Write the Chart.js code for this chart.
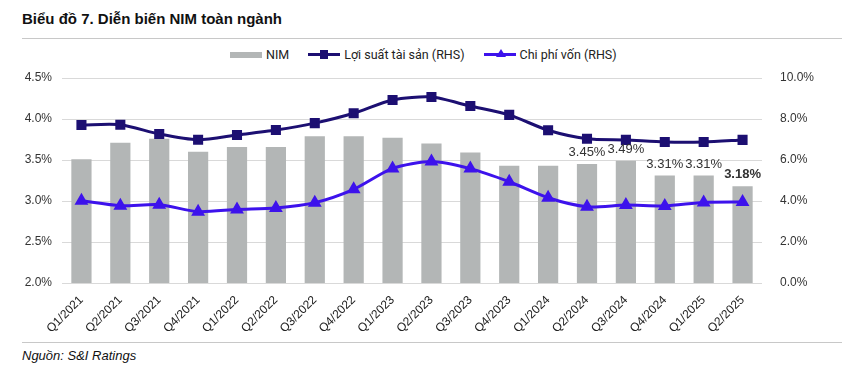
<!DOCTYPE html>
<html lang="vi">
<head>
<meta charset="UTF-8">
<title>Biểu đồ 7. Diễn biến NIM toàn ngành</title>
<script src="https://cdn.jsdelivr.net/npm/chart.js"></script>
<style>
  body { margin: 0; width: 842px; height: 371px; background: #fff; position: relative; overflow: hidden;
         font-family: "Liberation Sans", Arial, sans-serif; color: #222; }
  #title { position: absolute; left: 22px; top: 10px; font-weight: bold; font-size: 15px; color: #111; }
  #topline { position: absolute; left: 22px; right: 0; top: 38px; border-top: 1px solid #c8c8c8; }
  #botline { position: absolute; left: 22px; right: 0; top: 342px; border-top: 1px solid #c8c8c8; }
  #source { position: absolute; left: 22px; top: 348px; font-style: italic; font-size: 13px; color: #111; }
  #legend { position: absolute; top: 47px; left: 230px; font-family: Roboto, sans-serif; font-size: 12.5px; color: #222;
            display: flex; align-items: center; }
  .item { display: flex; align-items: center; margin-right: 19px; }
  .box { width: 32px; height: 6px; background: #b3b6b6; margin-right: 4px; }
  .ln { width: 32px; height: 3px; position: relative; margin-right: 4px; }
  .sq { position: absolute; left: 12px; top: -3px; width: 8px; height: 9px; background: #1c0f72; }
  .tri { position: absolute; left: 12px; top: -4px; width: 0; height: 0; border-left: 5px solid transparent;
         border-right: 5px solid transparent; border-bottom: 8px solid #3d12ec; }
  #wrap { position: absolute; left: 0; top: 40px; width: 842px; height: 300px; }
</style>
</head>
<body>
<div id="title">Biểu đồ 7. Diễn biến NIM toàn ngành</div>
<div id="topline"></div>
<div id="legend">
  <div class="item"><div class="box"></div>NIM</div>
  <div class="item"><div class="ln" style="background:#1c0f72"><div class="sq"></div></div>Lợi suất tài sản (RHS)</div>
  <div class="item"><div class="ln" style="background:#3d12ec"><div class="tri"></div></div>Chi phí vốn (RHS)</div>
</div>
<div id="wrap"><canvas id="nimChart"></canvas></div>
<div id="botline"></div>
<div id="source">Nguồn: S&amp;I Ratings</div>

<script>
const quarters = ["Q1/2021", "Q2/2021", "Q3/2021", "Q4/2021", "Q1/2022", "Q2/2022", "Q3/2022", "Q4/2022", "Q1/2023",
                  "Q2/2023", "Q3/2023", "Q4/2023", "Q1/2024", "Q2/2024", "Q3/2024", "Q4/2024", "Q1/2025", "Q2/2025"];
const nim = [3.51, 3.71, 3.76, 3.60, 3.66, 3.66, 3.79, 3.79, 3.77, 3.70, 3.59, 3.43, 3.43, 3.45, 3.49, 3.31, 3.31, 3.18];
const assetYield = [7.71, 7.72, 7.27, 6.99, 7.22, 7.46, 7.80, 8.28, 8.93, 9.07, 8.63, 8.20, 7.45, 7.04, 6.98, 6.88, 6.88, 6.98];
const costOfFunds = [4.01, 3.77, 3.82, 3.48, 3.59, 3.66, 3.92, 4.57, 5.59, 5.93, 5.58, 4.94, 4.16, 3.72, 3.80, 3.76, 3.93, 3.95];
// NIM bars that carry a value label (index from Q2/2024)
const labelFrom = 13;

// labels above the last NIM bars
const barLabels = {
  id: 'barLabels',
  afterDatasetsDraw(chart) {
    const ctx = chart.ctx;
    const meta = chart.getDatasetMeta(2); // NIM is the third dataset
    ctx.save();
    ctx.textAlign = 'center';
    ctx.textBaseline = 'bottom';
    ctx.fillStyle = '#333';
    meta.data.forEach((bar, i) => {
      if (i < labelFrom) return;
      const last = i === nim.length - 1;
      ctx.font = (last ? 'bold ' : '') + '13px "Liberation Sans", Arial, sans-serif';
      ctx.fillText(nim[i].toFixed(2) + '%', bar.x, bar.y - 5);
    });
    ctx.restore();
  }
};

const tickFont = { family: '"Liberation Sans", Arial, sans-serif', size: 12 };

new Chart(document.getElementById('nimChart'), {
  type: 'bar',
  data: {
    labels: quarters,
    datasets: [
      { type: 'line', label: 'Lợi suất tài sản (RHS)', data: assetYield, yAxisID: 'y1',
        borderColor: '#1c0f72', backgroundColor: '#1c0f72', borderWidth: 3, tension: 0.25,
        pointStyle: 'rect', pointRadius: 5, pointHoverRadius: 5, order: 1 },
      { type: 'line', label: 'Chi phí vốn (RHS)', data: costOfFunds, yAxisID: 'y1',
        borderColor: '#3d12ec', backgroundColor: '#3d12ec', borderWidth: 3, tension: 0.25,
        pointStyle: 'triangle', pointRadius: 5, pointHoverRadius: 5, order: 2 },
      { label: 'NIM', data: nim, yAxisID: 'y', backgroundColor: '#b3b6b6',
        barPercentage: 0.52, categoryPercentage: 1, order: 3 }
    ]
  },
  options: {
    responsive: true,
    maintainAspectRatio: false,
    animation: false,
    layout: { padding: { top: 38, left: 0, right: 0, bottom: 0 } },
    plugins: { legend: { display: false }, tooltip: { enabled: false } },
    scales: {
      x: {
        grid: { display: false },
        border: { display: false },
        ticks: { color: '#222', font: { family: '"Liberation Sans", Arial, sans-serif', size: 12 },
                 maxRotation: 45, minRotation: 45, padding: 2 },
        afterFit(scale) { scale.height = 57; }
      },
      y: {
        position: 'left', min: 2, max: 4.5,
        ticks: { stepSize: 0.5, color: '#333', font: tickFont, padding: 10,
                 callback: v => v.toFixed(1) + '%' },
        grid: { color: '#d9d9d9', drawTicks: false },
        border: { display: false },
        afterFit(scale) { scale.width = 62; }
      },
      y1: {
        position: 'right', min: 0, max: 10,
        ticks: { stepSize: 2, color: '#333', font: tickFont, padding: 18,
                 callback: v => v.toFixed(1) + '%' },
        grid: { display: false, drawTicks: false },
        border: { display: false },
        afterFit(scale) { scale.width = 80; }
      }
    }
  },
  plugins: [barLabels]
});
</script>
</body>
</html>
